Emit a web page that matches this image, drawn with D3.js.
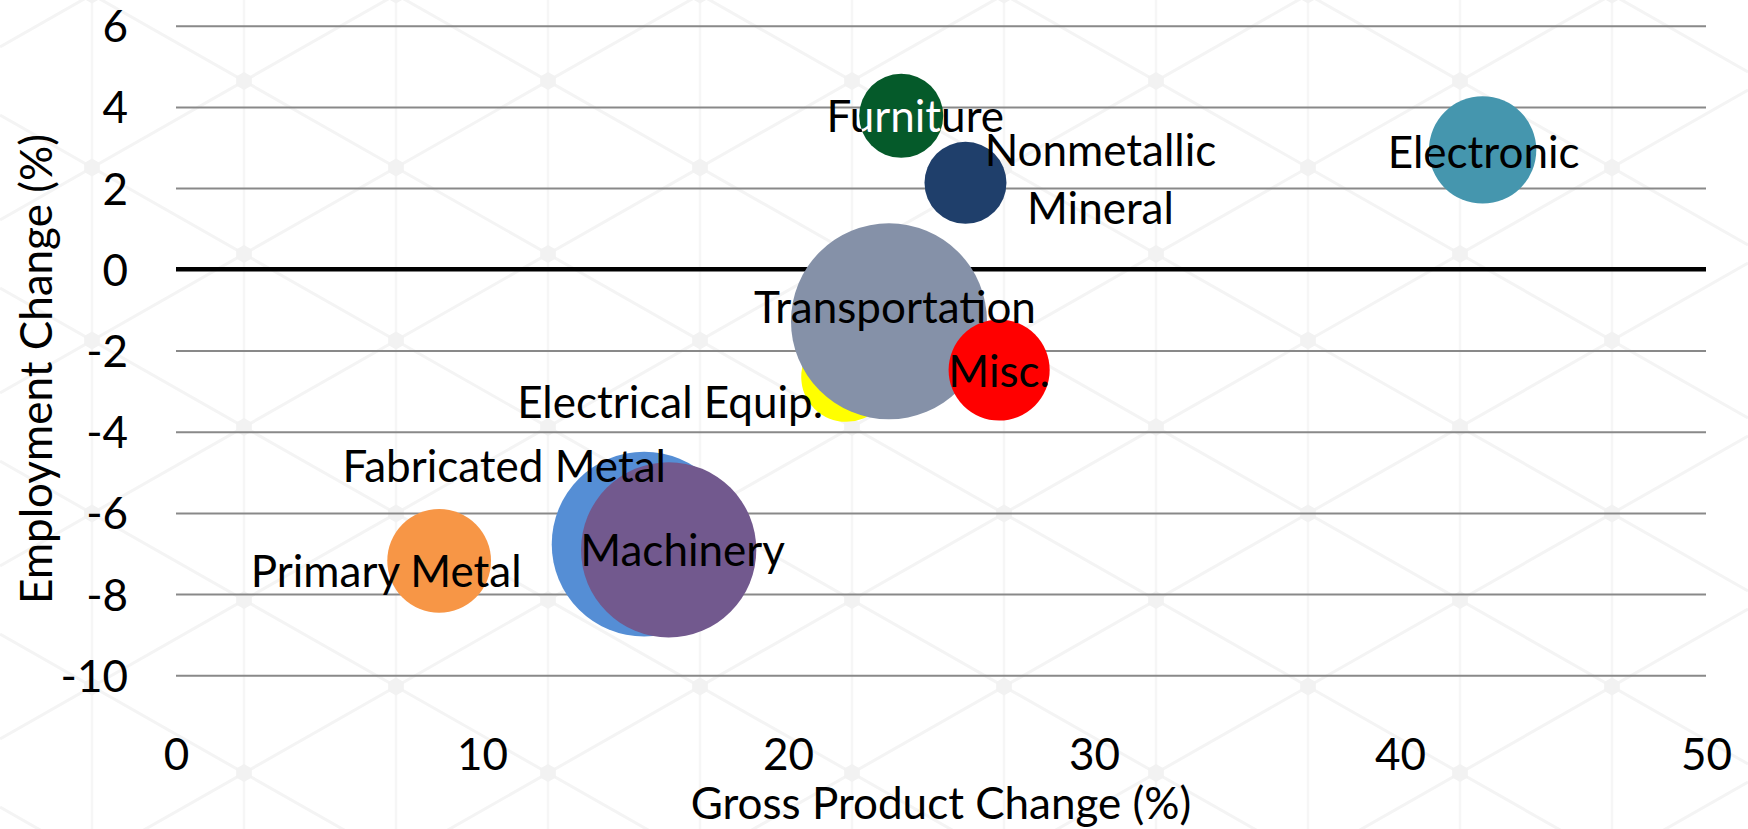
<!DOCTYPE html>
<html>
<head>
<meta charset="utf-8">
<script src="https://cdn.jsdelivr.net/npm/d3@7.9.0/dist/d3.min.js"></script>
<style>
  html, body { margin: 0; padding: 0; background: #fff; }
  svg { display: block; }
  text { font-family: Lato, "Open Sans", sans-serif; fill: #000; }
</style>
</head>
<body>
<svg id="chart" width="1748" height="829"></svg>
<script>
// industries in series (draw) order
const industries = ['Nonmetallic Mineral', 'Primary Metal', 'Fabricated Metal', 'Machinery',
  'Electronic', 'Electrical Equip.', 'Transportation', 'Furniture', 'Misc.'];
const grossProductChange = [25.8, 8.6, 15.3, 16.1, 42.7, 21.9, 23.3, 23.7, 26.9];
const employmentChange = [2.13, -7.18, -6.77, -6.91, 2.94, -2.65, -1.28, 3.78, -2.48];
const bubbleSize = [17.5, 28, 89, 80, 30, 21, 100, 18.4, 26.6];
const colors = ['#1f3f6b', '#f79646', '#558ed5', '#72598e', '#4596ae', '#ffff00', '#8591a8', '#055a2a', '#ff0000'];

const xTicks = [0, 10, 20, 30, 40, 50];
const yTicks = [-10, -8, -6, -4, -2, 0, 2, 4, 6];

// label placement relative to bubble centre (layout only)
const labelPos = {
  'Nonmetallic Mineral': { dx: 135, dy: -33, lines: ['Nonmetallic', 'Mineral'], gap: 58, anchor: 'middle' },
  'Primary Metal': { dx: -53, dy: 10, anchor: 'middle' },
  'Fabricated Metal': { dx: -140, dy: -78, anchor: 'middle' },
  'Machinery': { dx: 14, dy: 0, anchor: 'middle' },
  'Electronic': { dx: 1, dy: 2, anchor: 'middle' },
  'Electrical Equip.': { dx: -23, dy: 25, anchor: 'end' },
  'Transportation': { dx: 6, dy: -14, anchor: 'middle' },
  'Furniture': { dx: 14, dy: 0, anchor: 'middle' },
  'Misc.': { dx: 0, dy: 1, anchor: 'middle' }
};

const W = 1748, H = 829;
const margin = { left: 176, right: 42, top: 25.7, bottom: 153.7 };
const fontSize = 44;
const capHalf = 16; // half cap height, to centre text on a point

const svg = d3.select('#chart');
const x = d3.scaleLinear().domain([0, 50]).range([margin.left, W - margin.right]);
const y = d3.scaleLinear().domain([-10, 6]).range([H - margin.bottom, margin.top]);
const r = d3.scaleSqrt().domain([0, 100]).range([0, 98]);

// faint hexagonal watermark in the background
const bg = svg.append('g');
const colW = 152, rowH = 173, slope = 86.5 / 152;
for (let k = -8; k <= 4; k++) {
  let cx = 1156 + colW * k;
  bg.append('line').attr('x1', cx).attr('x2', cx).attr('y1', 0).attr('y2', H)
    .attr('stroke', '#f6f6f6').attr('stroke-width', 2.5);
}
for (let m = -14; m <= 14; m++) {
  let y0 = 81 + rowH * m;
  [slope, -slope].forEach(s => {
    bg.append('line')
      .attr('x1', 0).attr('y1', y0 + s * (0 - 1156))
      .attr('x2', W).attr('y2', y0 + s * (W - 1156))
      .attr('stroke', '#f4f4f4').attr('stroke-width', 3);
  });
}
for (let k = -8; k <= 4; k++) {
  for (let j = -1; j <= 5; j++) {
    let cx = 1156 + colW * k;
    let cy = 81 + rowH * j + (Math.abs(k) % 2 === 1 ? 86.5 : 0);
    let pts = d3.range(6).map(i => {
      let a = Math.PI / 3 * i + Math.PI / 6;
      return [cx + 9 * Math.cos(a), cy + 9 * Math.sin(a)];
    });
    bg.append('polygon').attr('points', pts.map(p => p.join(',')).join(' ')).attr('fill', '#f2f2f2');
  }
}

// gridlines
const grid = svg.append('g').attr('transform', `translate(${margin.left},0)`)
  .call(d3.axisLeft(y).tickValues(yTicks.filter(d => d !== 0)).tickSize(-(x.range()[1] - x.range()[0])).tickFormat(''));
grid.select('.domain').remove();
grid.selectAll('line').attr('stroke', '#898989').attr('stroke-width', 2);

// zero line
svg.append('line')
  .attr('x1', x(0)).attr('x2', x(50)).attr('y1', y(0)).attr('y2', y(0))
  .attr('stroke', '#000').attr('stroke-width', 4.5);

// y tick labels (plain hyphen for negatives, as in the original)
const yAxis = svg.append('g').attr('transform', `translate(${margin.left - 48},0)`)
  .call(d3.axisLeft(y).tickValues(yTicks).tickSize(0).tickPadding(0).tickFormat(d => String(d)));
yAxis.select('.domain').remove();
yAxis.selectAll('text').attr('font-size', fontSize).attr('font-family', 'Lato').attr('fill', '#000')
  .attr('dy', null).attr('y', capHalf);

// x tick labels
const xAxis = svg.append('g').attr('transform', `translate(0,${H - margin.bottom + 79})`)
  .call(d3.axisBottom(x).tickValues(xTicks).tickSize(0).tickPadding(0).tickFormat(d => String(d)));
xAxis.select('.domain').remove();
xAxis.selectAll('text').attr('font-size', fontSize).attr('font-family', 'Lato').attr('fill', '#000')
  .attr('dy', null).attr('y', capHalf);

// axis titles
svg.append('text')
  .attr('x', (x(0) + x(50)) / 2).attr('y', 803 + capHalf)
  .attr('text-anchor', 'middle').attr('font-size', fontSize)
  .text('Gross Product Change (%)');
svg.append('text')
  .attr('transform', `translate(${36 + capHalf},369) rotate(-90)`)
  .attr('text-anchor', 'middle').attr('font-size', fontSize)
  .text('Employment Change (%)');

// bubbles
const data = industries.map((name, i) => ({
  name, gp: grossProductChange[i], emp: employmentChange[i], size: bubbleSize[i], color: colors[i]
}));

svg.append('g').selectAll('circle').data(data).join('circle')
  .attr('cx', d => x(d.gp)).attr('cy', d => y(d.emp)).attr('r', d => r(d.size))
  .attr('fill', d => d.color);

// labels
function drawLabel(g, d, fill) {
  let p = labelPos[d.name];
  let lines = p.lines || [d.name];
  let gap = p.gap || 0;
  let t = g.append('text')
    .attr('text-anchor', p.anchor).attr('font-size', fontSize)
    .style('fill', fill);
  lines.forEach((ln, i) => {
    t.append('tspan')
      .attr('x', x(d.gp) + p.dx)
      .attr('y', y(d.emp) + p.dy + i * gap + capHalf)
      .text(ln);
  });
}
const labels = svg.append('g');
data.forEach(d => drawLabel(labels, d, '#000'));

// the furniture label shows white where it sits on its own bubble
const furn = data.find(d => d.name === 'Furniture');
svg.append('clipPath').attr('id', 'furnClip').append('circle')
  .attr('cx', x(furn.gp)).attr('cy', y(furn.emp)).attr('r', r(furn.size));
drawLabel(svg.append('g').attr('clip-path', 'url(#furnClip)'), furn, '#fff');
</script>
</body>
</html>
